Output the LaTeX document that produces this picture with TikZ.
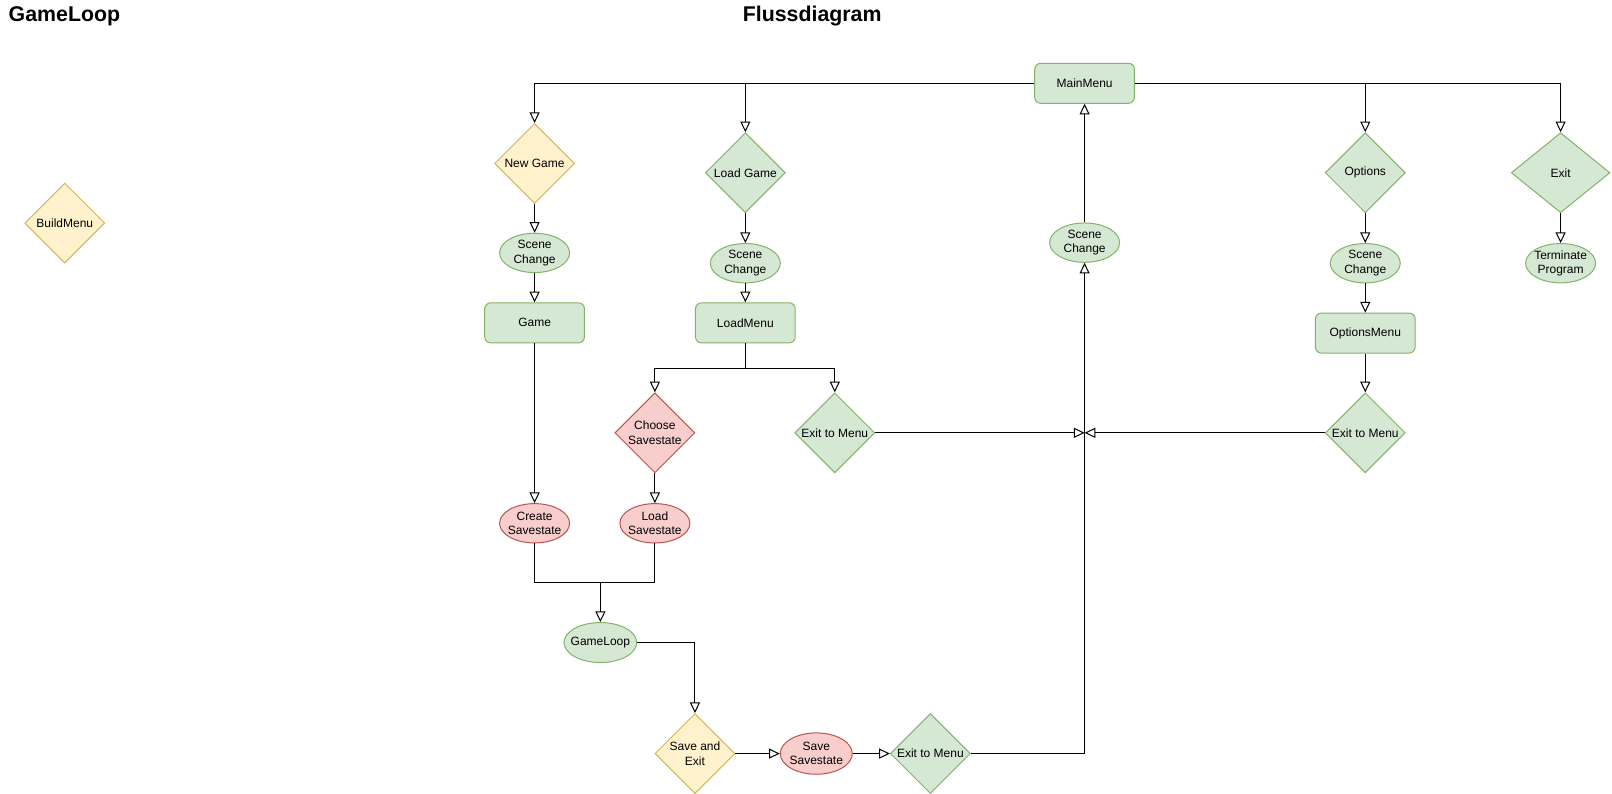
\documentclass[tikz,border=0pt]{standalone}
\usepackage{fontspec}
\setmainfont{Liberation Sans}
\usetikzlibrary{shapes.geometric,arrows.meta}
\definecolor{gfill}{HTML}{D5E8D4}\definecolor{gline}{HTML}{82B366}
\definecolor{yfill}{HTML}{FFF2CC}\definecolor{yline}{HTML}{D6B656}
\definecolor{rfill}{HTML}{F8CECC}\definecolor{rline}{HTML}{B85450}

\begin{document}
\begin{tikzpicture}[x=0.771pt, y=-0.771pt, line width=0.75pt,
  every node/.style={font=\fontsize{9}{10.8}\selectfont, align=center},
  title/.style={font=\bfseries\fontsize{16}{19}\selectfont, inner sep=0pt},
  box/.style={rectangle, rounded corners=4.5pt, minimum width=74.8pt, minimum height=30pt, fill=gfill, draw=gline},
  dia/.style={diamond, minimum width=60pt, minimum height=60pt, inner sep=-6pt, fill=#1fill, draw=#1line},
  ell/.style={ellipse, minimum width=52.5pt, minimum height=29.5pt, inner sep=-3pt, fill=#1fill, draw=#1line},
  arr/.style={-{Triangle[open,length=8pt,width=7.5pt]}}]
\useasboundingbox (0,0) rectangle (1568,772);
\node[title, anchor=base west] (tloop) at (8,21) {GameLoop};
\node[title, anchor=base] (tflow) at (790,21) {Flussdiagram};
\node[dia=y] (build) at (63,217) {BuildMenu};

\node[box] (main) at (1055,81) {MainMenu};
\node[dia=y] (newgame) at (520,159) {New Game};
\node[dia=g] (loadgame) at (725,168) {Load Game};
\node[dia=g] (options) at (1328,168) {Options};
\node[dia=g, minimum width=74pt] (exit) at (1518,168) {Exit};
\node[ell=g] (scA) at (520,246) {Scene\\Change};
\node[ell=g] (scB) at (725,256) {Scene\\Change};
\node[ell=g] (scC) at (1055,236) {Scene\\Change};
\node[ell=g] (scD) at (1328,256) {Scene\\Change};
\node[ell=g] (term) at (1518,256) {Terminate\\Program};
\node[box] (game) at (520,314) {Game};
\node[box] (loadmenu) at (725,314) {LoadMenu};
\node[box] (optmenu) at (1328,324) {OptionsMenu};
\node[dia=r] (choose) at (637,421) {Choose\\Savestate};
\node[dia=g] (exitA) at (812,421) {Exit to Menu};
\node[dia=g] (exitB) at (1328,421) {Exit to Menu};
\node[ell=r] (create) at (520,509) {Create\\Savestate};
\node[ell=r] (loadsave) at (637,509) {Load\\Savestate};
\node[ell=g, minimum width=54pt, minimum height=30pt] (gameloop) at (584,625) {GameLoop};
\node[dia=y] (saveexit) at (676,733) {Save and\\Exit};
\node[ell=r, minimum width=54pt, minimum height=31pt] (savesave) at (794,733) {Save\\Savestate};
\node[dia=g] (exitC) at (905,733) {Exit to Menu};
\coordinate (split) at (725,358); \coordinate (join) at (584,567); \coordinate (meet) at (1055,421);

\draw[arr] (main) -| (newgame); \draw[arr] (main) -| (loadgame);
\draw[arr] (main) -| (options); \draw[arr] (main) -| (exit);
\draw[arr] (newgame) -- (scA); \draw[arr] (scA) -- (game); \draw[arr] (game) -- (create);
\draw[arr] (loadgame) -- (scB); \draw[arr] (scB) -- (loadmenu);
\draw (loadmenu) -- (split); \draw[arr] (split) -| (choose); \draw[arr] (split) -| (exitA);
\draw[arr] (choose) -- (loadsave);
\draw (create) |- (join) -| (loadsave); \draw[arr] (join) -- (gameloop);
\draw[arr] (gameloop) -| (saveexit);
\draw[arr] (saveexit) -- (savesave); \draw[arr] (savesave) -- (exitC);
\draw[arr] (exitC) -| (scC); \draw[arr] (scC) -- (main);
\draw[arr] (exitA) -- (meet); \draw[arr] (exitB) -- (meet);
\draw[arr] (options) -- (scD); \draw[arr] (scD) -- (optmenu); \draw[arr] (optmenu) -- (exitB);
\draw[arr] (exit) -- (term);
\end{tikzpicture}
\end{document}
